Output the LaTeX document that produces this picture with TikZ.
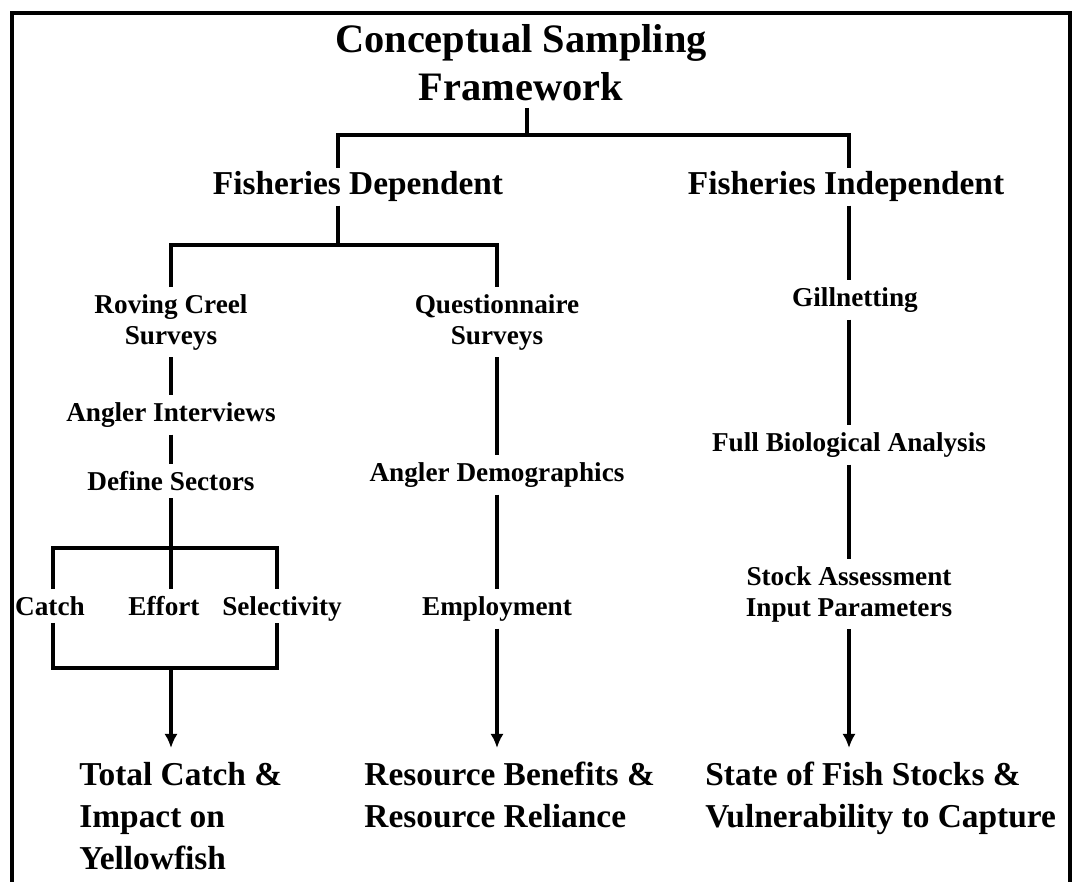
\documentclass[tikz,border=0pt]{standalone}
\usepackage{fontspec}
\setmainfont{Liberation Serif}
\usetikzlibrary{arrows.meta}

\begin{document}
\begin{tikzpicture}[%
    x=0.02cm,
    y=-0.02cm,
    title/.style={
      font=\bfseries\fontsize{23}{27.2}\selectfont,
      align=center,
      inner sep=4pt,
      anchor=north
    },
    head/.style={
      font=\bfseries\fontsize{19}{22}\selectfont,
      inner sep=2pt,
      anchor=north
    },
    tbox/.style={
      font=\bfseries\fontsize{15.5}{17.6}\selectfont,
      align=center,
      inner sep=4pt,
      anchor=north
    },
    outcome/.style={
      font=\bfseries\fontsize{19}{23.8}\selectfont,
      align=left,
      inner sep=8pt,
      anchor=north west
    },
    line/.style={
      draw,
      line width=1.8pt
    },
    arrow/.style={
      draw,
      line width=1.8pt,
      -{Latex[length=8pt,width=7.5pt]}
    }
  ]
    \useasboundingbox (0,0) rectangle (1075,882);
    \draw[line width=2.3pt] (12,882) -- (12,13) -- (1070,13) -- (1070,882);

    % headings
    \node[title] (ttl) at (521,17) {Conceptual Sampling\\Framework};
    \node[head] (fdep) at (358,167.5) {Fisheries Dependent};
    \node[head] (findep) at (846,167.5) {Fisheries Independent};

    % fisheries dependent
    \node[tbox] (roving) at (171,287) {Roving Creel\\Surveys};
    \node[tbox] (interv) at (171,395) {Angler Interviews};
    \node[tbox] (sectors) at (171,464) {Define Sectors};
    \node[tbox] (catch) at (50,589) {Catch};
    \node[tbox] (effort) at (164,589) {Effort};
    \node[tbox] (select) at (282,589) {Selectivity};
    \node[tbox] (quest) at (497,287) {Questionnaire\\Surveys};
    \node[tbox] (demog) at (497,455) {Angler Demographics};
    \node[tbox] (employ) at (497,589) {Employment};

    % fisheries independent
    \node[tbox] (gill) at (855,280) {Gillnetting};
    \node[tbox] (bioan) at (849,425) {Full Biological Analysis};
    \node[tbox] (stock) at (849,559) {Stock Assessment\\Input Parameters};

    % outcomes
    \node[outcome] (totcatch) at (65,748) {Total Catch \&\\Impact on\\Yellowfish};
    \node[outcome] (benefits) at (350,748) {Resource Benefits \&\\Resource Reliance};
    \node[outcome] (fstate) at (691,748) {State of Fish Stocks \&\\Vulnerability to Capture};

    \coordinate (jtop) at (527,135);
    \coordinate (jleft) at (338,135);
    \coordinate (jright) at (849,135);
    \coordinate (jdep) at (338,245);
    \coordinate (jrov) at (171,245);
    \coordinate (jque) at (497,245);
    \coordinate (sL) at (53,548);
    \coordinate (sR) at (277,548);
    \coordinate (bL) at (53,668);
    \coordinate (bR) at (277,668);

    \draw[line] (ttl.south -| jtop) -- (jtop);
    \draw[line] (jleft |- fdep.north) -- (jleft) -- (jright) -- (jright |- findep.north);
    \draw[line] (jdep |- fdep.south) -- (jdep);
    \draw[line] (roving.north) -- (jrov) -- (jque) -- (quest.north);
    \draw[line] (roving.south) -- (interv.north);
    \draw[line] (interv.south) -- (sectors.north);
    \draw[line] (sectors.south) -- (sectors.south |- sL);
    \draw[line] (sL |- catch.north) -- (sL) -- (sR) -- (sR |- select.north);
    \draw[line] (sectors.south |- sL) -- (sectors.south |- effort.north);
    \draw[line] (sL |- catch.south) -- (bL) -- (bR) -- (sR |- catch.south);
    \draw[arrow] (sectors.south |- bL) -- (sectors.south |- totcatch.north);

    \draw[line] (quest.south) -- (demog.north);
    \draw[line] (demog.south) -- (employ.north);
    \draw[arrow] (employ.south) -- (employ.south |- benefits.north);

    \draw[line] (jright |- findep.south) -- (jright |- gill.north);
    \draw[line] (jright |- gill.south) -- (bioan.north);
    \draw[line] (bioan.south) -- (stock.north);
    \draw[arrow] (stock.south) -- (stock.south |- fstate.north);
  \end{tikzpicture}
\end{document}
